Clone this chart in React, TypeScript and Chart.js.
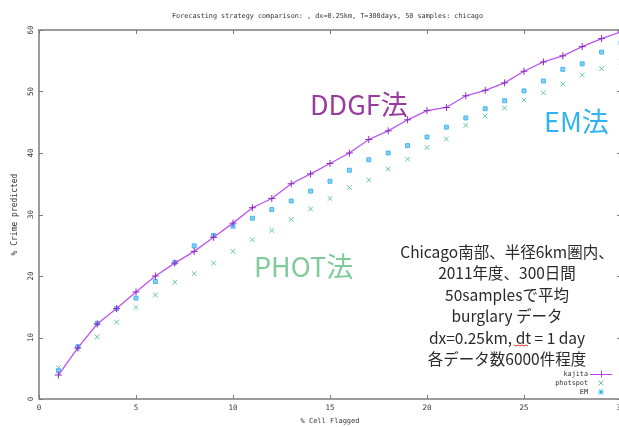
import React, { useEffect, useRef } from "react";
import { Chart, registerables } from "chart.js";

Chart.register(...registerables);

const TITLE = "Forecasting strategy comparison: , dx=0.25km, T=300days, 50 samples: chicago";
const X_TITLE = "% Cell Flagged";
const Y_TITLE = "% Crime predicted";

const cellFlagged = [1, 2, 3, 4, 5, 6, 7, 8, 9, 10, 11, 12, 13, 14, 15, 16, 17, 18, 19, 20, 21, 22, 23, 24, 25, 26, 27, 28, 29, 30];
const kajita = [3.9, 8.3, 12.2, 14.7, 17.4, 20.0, 22.1, 24.0, 26.3, 28.6, 31.1, 32.6, 35.0, 36.6, 38.3, 40.0, 42.2, 43.6, 45.4, 46.9, 47.4, 49.3, 50.2, 51.4, 53.3, 54.8, 55.8, 57.3, 58.6, 59.7];
const photspot = [5.1, 8.1, 10.1, 12.5, 14.9, 16.9, 19.0, 20.4, 22.1, 24.0, 25.9, 27.4, 29.2, 30.9, 32.6, 34.4, 35.6, 37.4, 39.0, 40.9, 42.3, 44.5, 46.0, 47.3, 48.6, 49.8, 51.2, 52.7, 53.7, 54.8];
const em = [4.6, 8.5, 12.3, 14.7, 16.4, 19.1, 22.2, 24.9, 26.6, 28.1, 29.4, 30.8, 32.2, 33.8, 35.4, 37.2, 38.9, 40.0, 41.2, 42.6, 44.2, 45.7, 47.2, 48.5, 50.1, 51.7, 53.6, 54.5, 56.4, 57.9];

const seriesNames = ["kajita", "photspot", "EM"];
const methodLabels = ["DDGF法", "PHOT法", "EM法"];
const noteLines = [
  "Chicago南部、半径6km圏内、",
  "2011年度、300日間",
  "50samplesで平均",
  "burglary データ",
  "dx=0.25km, dt = 1 day",
  "各データ数6000件程度",
];

const X_MIN = 0, X_MAX = 30, X_STEP = 5;
const Y_MIN = 0, Y_MAX = 60, Y_STEP = 10;

const COLORS = {
  kajitaLine: "#bb55ee",
  kajitaMark: "#8a2cc0",
  photspot: "#62c996",
  em: "#2aa9f0",
  emFill: "#86d2f7",
  frame: "#7c7c7c",
};

const MONO = "'DejaVu Sans Mono', monospace";
const CJK = "'Noto Sans CJK JP', 'Noto Sans', sans-serif";

const decorPlugin = {
  id: "decor",
  beforeDatasetsDraw(chart: any) {
    const { ctx, chartArea: a, scales } = chart;
    const xs = scales.x, ys = scales.y;
    ctx.save();
    ctx.strokeStyle = COLORS.frame;
    ctx.lineWidth = 1.5;
    ctx.strokeRect(a.left, a.top, a.right - a.left, a.bottom - a.top);
    ctx.lineWidth = 1;
    const tl = 4;
    ctx.beginPath();
    for (let v = X_MIN; v <= X_MAX; v += X_STEP) {
      const px = Math.round(xs.getPixelForValue(v)) + 0.5;
      ctx.moveTo(px, a.bottom); ctx.lineTo(px, a.bottom - tl);
      ctx.moveTo(px, a.top); ctx.lineTo(px, a.top + tl);
    }
    for (let v = Y_MIN; v <= Y_MAX; v += Y_STEP) {
      const py = Math.round(ys.getPixelForValue(v)) + 0.5;
      ctx.moveTo(a.left, py); ctx.lineTo(a.left + tl, py);
      ctx.moveTo(a.right, py); ctx.lineTo(a.right - tl, py);
    }
    ctx.stroke();
    ctx.restore();
  },
  afterDraw(chart: any) {
    const { ctx, chartArea: a } = chart;
    ctx.save();
    // title
    ctx.fillStyle = "#333";
    ctx.font = `6.8px ${MONO}`;
    ctx.textAlign = "center";
    ctx.textBaseline = "middle";
    ctx.fillText(TITLE, 327.5, 16);

    // legend
    const lx = 588;
    const ly = [374, 383, 392];
    ctx.textAlign = "right";
    ctx.font = `6.8px ${MONO}`;
    seriesNames.forEach((n, i) => ctx.fillText(n, lx, ly[i]));
    const mx = 601;
    ctx.strokeStyle = "#c040f0";
    ctx.lineWidth = 1;
    ctx.beginPath();
    ctx.moveTo(590, ly[0] + 0.5); ctx.lineTo(612, ly[0] + 0.5);
    ctx.moveTo(mx + 0.5, ly[0] - 3.5); ctx.lineTo(mx + 0.5, ly[0] + 3.5);
    ctx.stroke();
    ctx.strokeStyle = COLORS.photspot;
    ctx.beginPath();
    ctx.moveTo(mx - 2.5, ly[1] - 2.5); ctx.lineTo(mx + 2.5, ly[1] + 2.5);
    ctx.moveTo(mx + 2.5, ly[1] - 2.5); ctx.lineTo(mx - 2.5, ly[1] + 2.5);
    ctx.stroke();
    ctx.fillStyle = COLORS.emFill;
    ctx.fillRect(mx - 2.5, ly[2] - 2.5, 5, 5);
    ctx.fillStyle = COLORS.em;
    ctx.fillRect(mx - 1, ly[2] - 1, 2, 2);

    // method labels
    ctx.textAlign = "left";
    ctx.textBaseline = "middle";
    ctx.font = `27px ${CJK}`;
    ctx.fillStyle = "#983a9e";
    ctx.fillText(methodLabels[0], 310, 105);
    ctx.fillStyle = "#80cb9a";
    ctx.fillText(methodLabels[1], 254, 267);
    ctx.fillStyle = "#2fb3f2";
    ctx.fillText(methodLabels[2], 544, 122);

    // note block
    ctx.textAlign = "center";
    ctx.fillStyle = "#2a2a2a";
    ctx.font = `15.5px ${CJK}`;
    noteLines.forEach((t, i) => ctx.fillText(t, 507, 252 + i * 21.5));

    // spell-check squiggle under "dt"
    ctx.strokeStyle = "#e03030";
    ctx.lineWidth = 1;
    ctx.beginPath();
    for (let x = 514, k = 0; x <= 528; x += 2, k++) {
      const y = 345 + (k % 2 ? 1 : 0);
      if (k === 0) ctx.moveTo(x, y); else ctx.lineTo(x, y);
    }
    ctx.stroke();
    ctx.restore();
  },
};

export default function App() {
  const ref = useRef<HTMLCanvasElement | null>(null);
  useEffect(() => {
    if (!ref.current) return;
    const chart = new Chart(ref.current, {
      type: "line",
      data: {
        datasets: [
          {
            label: seriesNames[0],
            data: cellFlagged.map((x, i) => ({ x, y: kajita[i] })),
            borderColor: COLORS.kajitaLine,
            borderWidth: 1.3,
            pointStyle: "cross",
            pointRadius: 3.5,
            pointBorderColor: COLORS.kajitaMark,
            pointBorderWidth: 1,
            showLine: true,
            fill: false,
            order: 0,
          },
          {
            label: seriesNames[1],
            data: cellFlagged.map((x, i) => ({ x, y: photspot[i] })),
            showLine: false,
            pointStyle: "crossRot",
            pointRadius: 3.3,
            pointBorderColor: COLORS.photspot,
            pointBorderWidth: 1,
            borderColor: COLORS.photspot,
            order: 2,
          },
          {
            label: seriesNames[2],
            data: cellFlagged.map((x, i) => ({ x, y: em[i] })),
            showLine: false,
            pointStyle: "rect",
            pointRadius: 2.8,
            pointBackgroundColor: COLORS.emFill,
            pointBorderColor: COLORS.em,
            pointBorderWidth: 0.8,
            borderColor: COLORS.em,
            order: 1,
          },
        ],
      },
      options: {
        responsive: false,
        animation: false,
        devicePixelRatio: 1,
        layout: { padding: { left: 0, right: 19, top: 30, bottom: 0 } },
        plugins: {
          legend: { display: false },
          title: { display: false },
          tooltip: { enabled: false },
        },
        scales: {
          x: {
            type: "linear",
            min: X_MIN,
            max: X_MAX,
            ticks: {
              stepSize: X_STEP,
              color: "#333",
              font: { family: MONO, size: 7.5 },
              padding: 5,
              maxRotation: 0,
            },
            grid: { display: false, drawTicks: false },
            border: { display: false },
            title: {
              display: true,
              text: X_TITLE,
              color: "#333",
              font: { family: MONO, size: 7 },
              padding: { top: 0, bottom: 2 },
            },
            afterFit: (s: any) => { s.height = 28; },
          },
          y: {
            type: "linear",
            min: Y_MIN,
            max: Y_MAX,
            ticks: {
              stepSize: Y_STEP,
              color: "#333",
              font: { family: MONO, size: 7.5 },
              padding: 3.5,
              minRotation: 90,
              maxRotation: 90,
              crossAlign: "center",
            },
            grid: { display: false, drawTicks: false },
            border: { display: false },
            title: {
              display: true,
              text: Y_TITLE,
              color: "#333",
              font: { family: MONO, size: 8 },
              padding: { top: 10, bottom: 0 },
            },
            afterFit: (s: any) => { s.width = 39; },
          },
        },
      },
      plugins: [decorPlugin],
    });
    return () => chart.destroy();
  }, []);
  return (
    <div style={{ position: "absolute", left: 0, top: 0, width: 640, height: 427, background: "#fff" }}>
      <canvas ref={ref} width={640} height={427} style={{ display: "block" }} />
    </div>
  );
}
